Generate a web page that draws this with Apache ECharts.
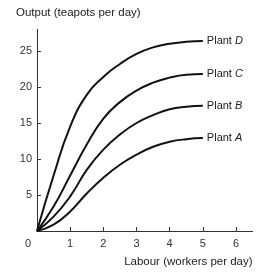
<!DOCTYPE html>
<html>
<head>
<meta charset="utf-8">
<script src="https://cdn.jsdelivr.net/npm/echarts@6/dist/echarts.min.js"></script>
<style>
  html, body { margin: 0; padding: 0; background: #fff; }
  #chart { width: 259px; height: 279px; }
</style>
</head>
<body>
<div id="chart"></div>
<script>
var chartDom = document.getElementById('chart');
var myChart = echarts.init(chartDom);
var option;

// labour (workers per day) and output of each plant
const labour = [0, 0.5, 1, 1.5, 2, 2.5, 3, 3.5, 4, 4.5, 5];
const plantA = [0, 0.9, 2.7, 5.2, 7.4, 9.2, 10.6, 11.7, 12.4, 12.75, 12.9];
const plantB = [0, 2.0, 4.8, 8.5, 11.3, 13.4, 15.0, 16.1, 16.9, 17.25, 17.4];
const plantC = [0, 3.4, 7.7, 12.0, 15.6, 17.9, 19.5, 20.6, 21.3, 21.7, 21.8];
const plantD = [0, 7.7, 14.5, 18.9, 21.4, 23.2, 24.6, 25.5, 26.0, 26.3, 26.4];
const plantNames = ['A', 'B', 'C', 'D'];
const xTicks = [0, 1, 2, 3, 4, 5, 6];
const yTicks = [5, 10, 15, 20, 25];

const font = 'Liberation Sans, Arial, sans-serif';

function plantSeries(letter, values) {
  return {
    type: 'line',
    name: 'Plant ' + letter,
    data: labour.map((x, i) => [x, values[i]]),
    smooth: 0.5,
    showSymbol: false,
    lineStyle: { color: '#111', width: 2 },
    endLabel: {
      show: true,
      distance: 4,
      formatter: 'Plant {i|' + letter + '}',
      color: '#222',
      fontFamily: font,
      fontSize: 11,
      rich: { i: { fontStyle: 'italic', fontSize: 11, fontFamily: font, color: '#222' } }
    },
    silent: true
  };
}

option = {
  animation: false,
  grid: { left: 37, right: 6.4, top: 29.4, bottom: 48 },
  xAxis: {
    type: 'value',
    min: 0,
    max: 6.5,
    interval: 1,
    name: 'Labour (workers per day)',
    nameLocation: 'end',
    nameGap: 0,
    nameTextStyle: { align: 'right', verticalAlign: 'top', padding: [25, 0, 0, 0], color: '#222', fontFamily: font, fontSize: 11.5 },
    axisLine: { lineStyle: { color: '#333', width: 1 } },
    axisTick: { inside: true, length: 4, lineStyle: { color: '#333' }, customValues: xTicks.slice(1) },
    axisLabel: {
      customValues: xTicks,
      margin: 7,
      color: '#333',
      fontFamily: font,
      fontSize: 11,
      formatter: function (v) { return v === 0 ? '{z|0}' : String(v); },
      rich: { z: { padding: [0, 18, 0, 0], color: '#333', fontFamily: font, fontSize: 11 } }
    },
    splitLine: { show: false }
  },
  yAxis: {
    type: 'value',
    min: 0,
    max: 28,
    interval: 5,
    name: 'Output (teapots per day)',
    nameLocation: 'end',
    nameGap: 11,
    nameTextStyle: { align: 'left', padding: [0, 0, 0, -21], color: '#222', fontFamily: font, fontSize: 11.5 },
    axisLine: { show: true, lineStyle: { color: '#333', width: 1 } },
    axisTick: { show: true, inside: true, length: 4, lineStyle: { color: '#333' }, customValues: yTicks },
    axisLabel: { customValues: yTicks, margin: 5, color: '#333', fontFamily: font, fontSize: 11 },
    splitLine: { show: false }
  },
  series: [
    plantSeries(plantNames[0], plantA),
    plantSeries(plantNames[1], plantB),
    plantSeries(plantNames[2], plantC),
    plantSeries(plantNames[3], plantD)
  ]
};

option && myChart.setOption(option);
</script>
</body>
</html>
